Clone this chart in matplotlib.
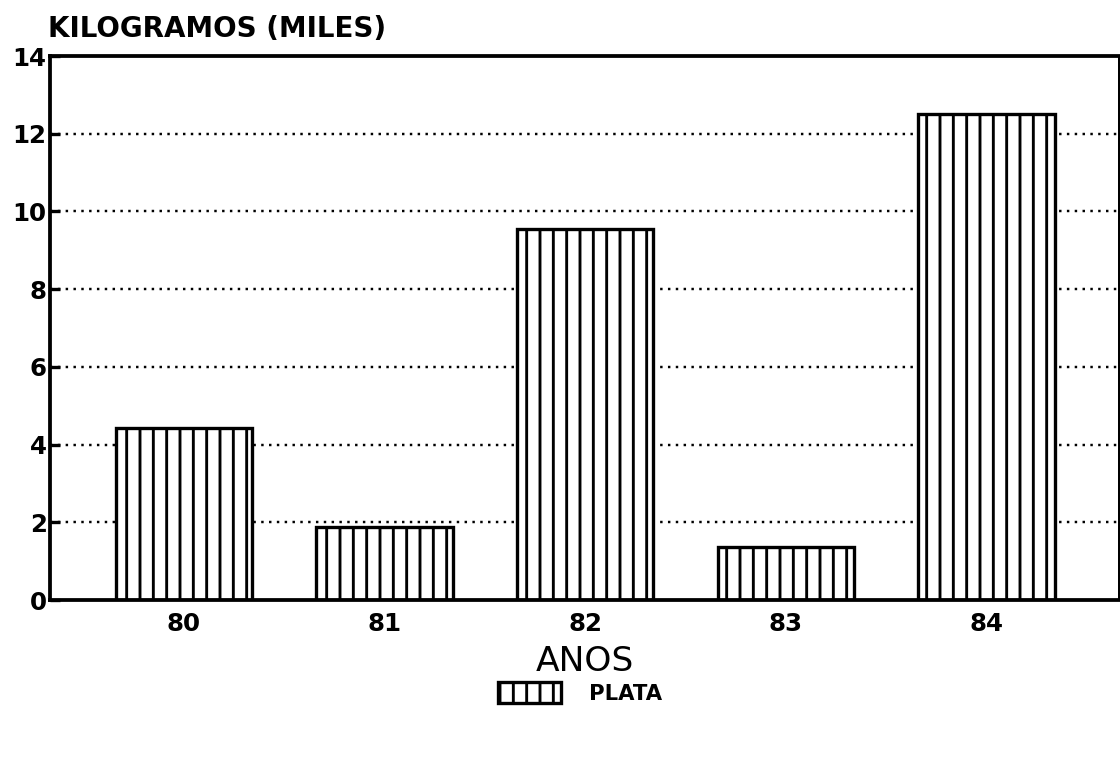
import matplotlib
matplotlib.use("Agg")
import matplotlib.pyplot as plt

# data
years = ["80", "81", "82", "83", "84"]
plata = [4.43, 1.88, 9.55, 1.36, 12.5]
yticks = [0, 2, 4, 6, 8, 10, 12, 14]

plt.rcParams["font.family"] = ["DejaVu Sans"]
plt.rcParams["hatch.linewidth"] = 2.6

# dpi 80 so the vertical hatch spacing comes out closer to the original
DPI = 80
fig = plt.figure(figsize=(1120 / DPI, 758 / DPI), dpi=DPI)
ax = fig.add_axes([50 / 1120, 1 - 600 / 758, 1069 / 1120, 544 / 758])

x = list(range(len(years)))
bars = ax.bar(x, plata, width=0.68, color="white", edgecolor="black",
              linewidth=3.0, hatch="|", label="PLATA", zorder=2)

# dotted gridlines
for v in yticks[1:-1]:
    ax.axhline(v, color="black", linestyle=(0, (1, 2.2)), linewidth=2.2, zorder=1)

ax.set_xlim(-0.667, 4.66)
ax.set_ylim(0, 14)
ax.set_xticks(x)
ax.set_xticklabels(years, fontsize=22, fontweight="bold")
ax.set_yticks(yticks)
ax.set_yticklabels([str(t) for t in yticks], fontsize=22, fontweight="bold")
ax.tick_params(axis="y", direction="in", length=9, width=3, pad=3)
ax.tick_params(axis="x", length=0, pad=11)

for s in ["left", "top", "bottom"]:
    ax.spines[s].set_linewidth(3.4)
ax.spines["right"].set_linewidth(1.8)

ax.set_xlabel("ANOS", fontsize=31, labelpad=8)
fig.text(48 / 1120, 1 - 37 / 758, "KILOGRAMOS (MILES)", fontsize=25,
         fontweight="bold", ha="left", va="baseline")

leg = fig.legend(handles=[bars], labels=["PLATA"], loc="center",
                 bbox_to_anchor=(580 / 1120, 1 - 693 / 758), frameon=False,
                 handlelength=3.0, handleheight=1.1, handletextpad=1.3,
                 prop={"size": 19, "weight": "bold"})

fig.savefig("out.png", dpi=DPI, facecolor="white")
